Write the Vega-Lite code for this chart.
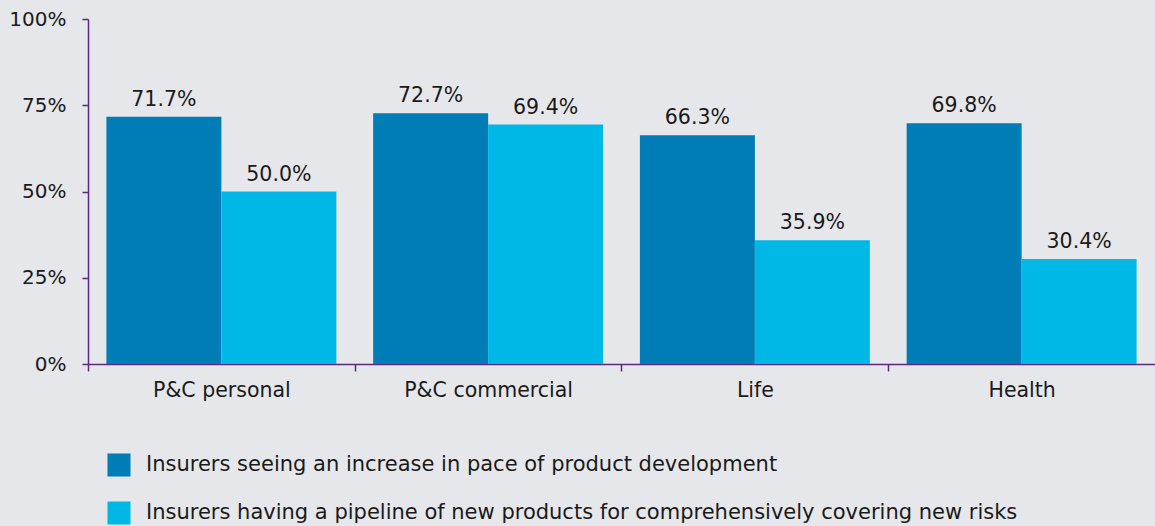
{
  "$schema": "https://vega.github.io/schema/vega-lite/v6.json",
  "autosize": "none",
  "padding": {"left": 88, "top": 19, "right": 0, "bottom": 162},
  "width": 1067,
  "height": 345,
  "background": "#e6e7ea",
  "config": {
    "view": {"stroke": null},
    "font": "DejaVu Sans"
  },
  "data": {
    "values": [
      {"category": "P&C personal", "series": "Insurers seeing an increase in pace of product development", "value": 0.717},
      {"category": "P&C personal", "series": "Insurers having a pipeline of new products for comprehensively covering new risks", "value": 0.5},
      {"category": "P&C commercial", "series": "Insurers seeing an increase in pace of product development", "value": 0.727},
      {"category": "P&C commercial", "series": "Insurers having a pipeline of new products for comprehensively covering new risks", "value": 0.694},
      {"category": "Life", "series": "Insurers seeing an increase in pace of product development", "value": 0.663},
      {"category": "Life", "series": "Insurers having a pipeline of new products for comprehensively covering new risks", "value": 0.359},
      {"category": "Health", "series": "Insurers seeing an increase in pace of product development", "value": 0.698},
      {"category": "Health", "series": "Insurers having a pipeline of new products for comprehensively covering new risks", "value": 0.304}
    ]
  },
  "encoding": {
    "x": {
      "field": "category", "type": "nominal", "sort": null, "title": null,
      "scale": {"paddingInner": 0.138, "paddingOuter": 0.069},
      "axis": {
        "domainColor": "#5b2a7e", "domainWidth": 1.5, "tickColor": "#5b2a7e", "tickWidth": 1.5,
        "tickSize": 7, "tickOffset": -133.4, "labelOffset": 133.4, "labelAngle": 0, "labelFontSize": 20.5,
        "labelColor": "#1a1a1a", "labelPadding": 9
      }
    },
    "xOffset": {
      "field": "series", "type": "nominal", "sort": null,
      "scale": {"paddingInner": 0, "paddingOuter": 0}
    },
    "y": {
      "field": "value", "type": "quantitative", "title": null,
      "scale": {"domain": [0, 1], "nice": false},
      "axis": {
        "values": [0, 0.25, 0.5, 0.75, 1], "format": ".0%", "grid": false,
        "domainColor": "#5b2a7e", "domainWidth": 1.5, "tickColor": "#5b2a7e", "tickWidth": 1.5,
        "tickSize": 6, "labelFontSize": 20, "labelColor": "#1a1a1a", "labelPadding": 16
      }
    }
  },
  "layer": [
    {
      "mark": {"type": "bar"},
      "encoding": {
        "color": {
          "field": "series", "type": "nominal", "sort": null,
          "scale": {"range": ["#007cb6", "#00b8e6"]},
          "legend": {
            "title": null, "orient": "none", "legendX": 19, "legendY": 434,
            "symbolType": "square", "symbolSize": 530, "symbolStrokeWidth": 0,
            "labelFontSize": 21, "labelColor": "#1a1a1a", "labelOffset": 15,
            "rowPadding": 24, "labelLimit": 1100
          }
        }
      }
    },
    {
      "mark": {"type": "text", "baseline": "bottom", "dy": -7, "fontSize": 20.5, "color": "#1a1a1a"},
      "encoding": {
        "text": {"field": "value", "type": "quantitative", "format": ".1%"}
      }
    }
  ]
}
